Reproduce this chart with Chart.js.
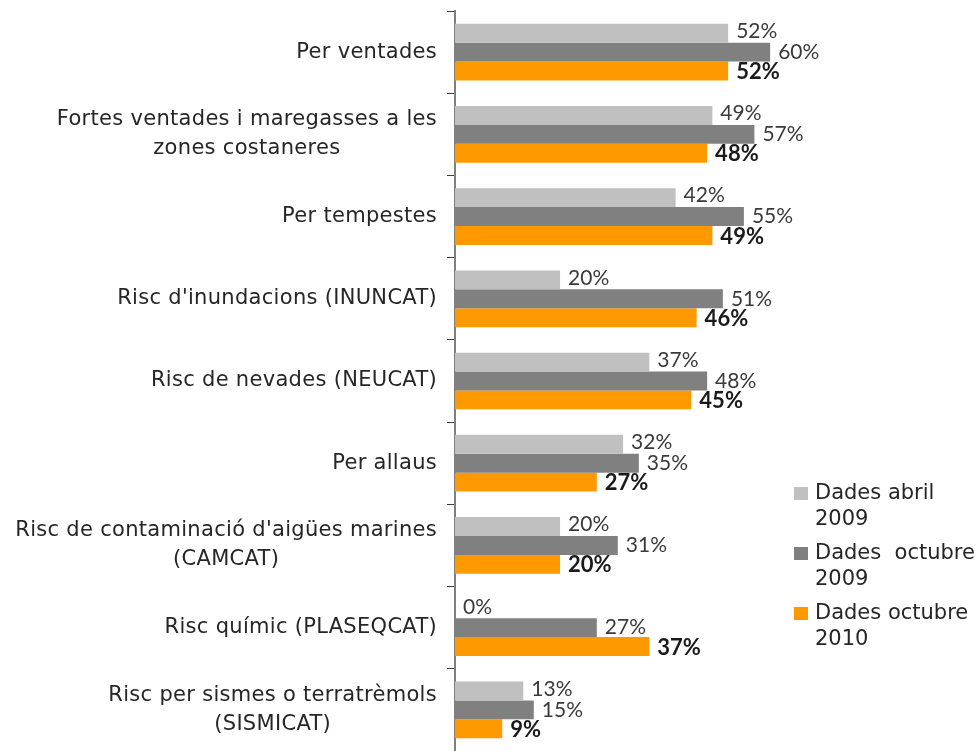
<!DOCTYPE html>
<html lang="ca">
<head>
<meta charset="UTF-8">
<title>Coneixement dels plans de protecció civil</title>
<script src="https://cdn.jsdelivr.net/npm/chart.js"></script>
<style>
    html, body { margin: 0; padding: 0; background: #ffffff; }
    #wrap { width: 978px; height: 751px; position: relative; }
</style>
</head>
<body>
<div id="wrap"><canvas id="plans"></canvas></div>
<script>
    // Categories (one entry per line of the label)
    const categories = [
        ['Per ventades'],
        ['Fortes ventades i maregasses a les', 'zones costaneres'],
        ['Per tempestes'],
        ["Risc d'inundacions (INUNCAT)"],
        ['Risc de nevades (NEUCAT)'],
        ['Per allaus'],
        ["Risc de contaminació d'aigües marines", '(CAMCAT)'],
        ['Risc químic (PLASEQCAT)'],
        ['Risc per sismes o terratrèmols', '(SISMICAT)']
    ];

    const seriesNames = [
        ['Dades abril', '2009'],
        ['Dades  octubre', '2009'],
        ['Dades octubre', '2010']
    ];

    // Percentages
    const abril2009   = [52, 49, 42, 20, 37, 32, 20, 0, 13];
    const octubre2009 = [60, 57, 55, 51, 48, 35, 31, 27, 15];
    const octubre2010 = [52, 48, 49, 46, 45, 27, 20, 37, 9];

    const colors = ['#c0c0c0', '#808080', '#ff9900'];

    const catFont = '21px "DejaVu Sans"';
    const valFont = '21px Lato';
    const valFontBold = 'bold 22px Lato';

    // category labels: lines centred on each other, block right-aligned to the axis
    const categoryLabels = {
        id: 'categoryLabels',
        afterDraw(chart) {
            const ctx = chart.ctx;
            const y = chart.scales.y;
            const right = chart.chartArea.left - 18;
            const lineH = 29;
            ctx.save();
            ctx.font = catFont;
            ctx.letterSpacing = '0.3px';
            ctx.fillStyle = '#262626';
            ctx.textAlign = 'center';
            ctx.textBaseline = 'middle';
            categories.forEach((lines, i) => {
                const w = Math.max(...lines.map(l => ctx.measureText(l).width));
                const cx = right - w / 2;
                const cy = y.getPixelForTick(i);
                const top = cy - (lines.length - 1) * lineH / 2;
                lines.forEach((l, k) => ctx.fillText(l, cx, top + k * lineH));
            });
            ctx.restore();
        }
    };

    // percentage labels at the end of each bar
    const valueLabels = {
        id: 'valueLabels',
        afterDatasetsDraw(chart) {
            const ctx = chart.ctx;
            ctx.save();
            ctx.textAlign = 'left';
            ctx.textBaseline = 'middle';
            chart.data.datasets.forEach((ds, di) => {
                const meta = chart.getDatasetMeta(di);
                ctx.font = di === 2 ? valFontBold : valFont;
                ctx.fillStyle = di === 2 ? '#1a1a1a' : '#3a3a3a';
                meta.data.forEach((bar, i) => {
                    const dy = di === 0 ? -2 : (di === 2 ? 1 : 0);
                    ctx.fillText(ds.data[i] + '%', bar.x + 8, bar.y + dy);
                });
            });
            ctx.restore();
        }
    };

    // legend in the lower right, two lines per entry
    const sideLegend = {
        id: 'sideLegend',
        afterDraw(chart) {
            const ctx = chart.ctx;
            const x0 = 794, y0 = 494, step = 60, lineH = 26;
            ctx.save();
            ctx.font = catFont;
            ctx.textAlign = 'left';
            ctx.textBaseline = 'middle';
            seriesNames.forEach((lines, i) => {
                const y = y0 + i * step;
                ctx.fillStyle = colors[i];
                ctx.fillRect(x0, y - 7, 14, 13);
                ctx.fillStyle = '#262626';
                lines.forEach((l, k) => ctx.fillText(l, x0 + 21, y + k * lineH));
            });
            ctx.restore();
        }
    };

    new Chart(document.getElementById('plans'), {
        type: 'bar',
        data: {
            labels: categories.map(c => c.join(' ')),
            datasets: [
                { label: seriesNames[0].join(' '), data: abril2009, backgroundColor: colors[0] },
                { label: seriesNames[1].join(' '), data: octubre2009, backgroundColor: colors[1] },
                { label: seriesNames[2].join(' '), data: octubre2010, backgroundColor: colors[2] }
            ]
        },
        options: {
            indexAxis: 'y',
            responsive: true,
            maintainAspectRatio: false,
            animation: false,
            categoryPercentage: 0.69,
            barPercentage: 1.0,
            layout: { padding: { top: 11, right: 3, bottom: 0, left: 0 } },
            scales: {
                x: {
                    display: false,
                    min: 0,
                    max: 99
                },
                y: {
                    afterFit(scale) { scale.width = 455; },
                    border: { display: true, color: '#7f7f7f', width: 2 },
                    grid: {
                        drawOnChartArea: false,
                        drawTicks: true,
                        tickLength: 8,
                        color: '#404040',
                        offset: true
                    },
                    ticks: { display: false }
                }
            },
            plugins: {
                legend: { display: false },
                tooltip: { enabled: false }
            }
        },
        plugins: [categoryLabels, valueLabels, sideLegend]
    });
</script>
</body>
</html>
